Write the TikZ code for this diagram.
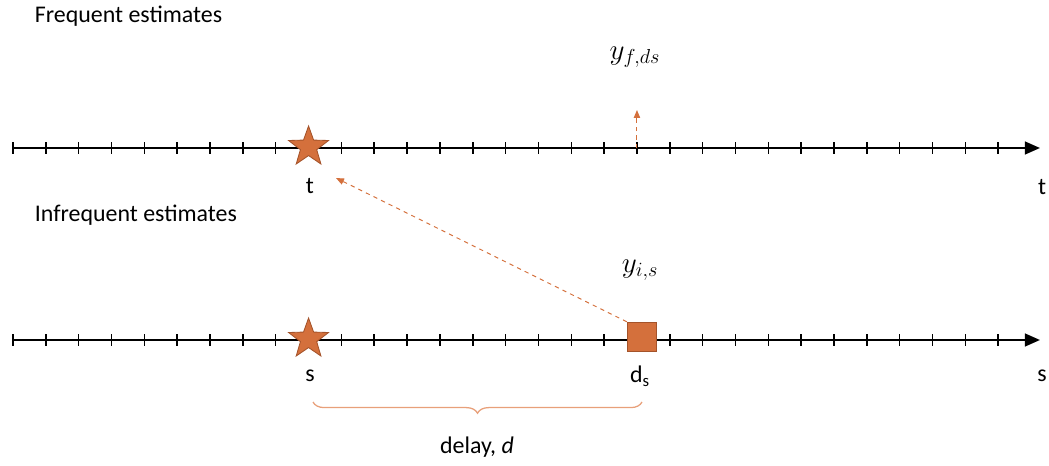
\documentclass[tikz,border=0pt]{standalone}
\usepackage{fontspec}
\setmainfont{Carlito}
\usetikzlibrary{shapes.geometric,positioning,arrows.meta,decorations.pathreplacing}

\definecolor{mark}{HTML}{D4703C}
\definecolor{markedge}{HTML}{A4532A}
\definecolor{lite}{HTML}{E8A07A}

\begin{document}
\begin{tikzpicture}[
  font=\fontsize{17}{20}\selectfont,
  axis/.style={line width=1.6pt, -{Triangle[length=0.38cm, width=0.32cm]}},
  tick/.style={line width=1.1pt},
  event/.style={star, star points=5, star point ratio=2.45, draw=markedge, line width=0.6pt, fill=mark, minimum size=1.05cm, inner sep=0pt},
  report/.style={rectangle, draw=markedge, line width=0.6pt, fill=mark, minimum size=0.74cm, inner sep=0pt},
  link/.style={dashed, draw=mark, line width=0.7pt, -{Triangle[length=0.2cm, width=0.16cm]}},
  mathlab/.style={font=\fontsize{21}{24}\selectfont}
]
\useasboundingbox (0,0) rectangle (26.225,11.625);

%% ============ Top axis: frequent estimates (y = 7.925) ============
\node[anchor=west] (freq) at (0.75,11.225) {Frequent estimates};
\coordinate (ta) at (0.325,7.925);
\coordinate (tb) at (26.0,7.925);
\draw[axis] (ta) -- (tb);
\foreach \k in {0,...,30}
  \draw[tick] (0.325+\k*0.821,7.925-0.15) -- (0.325+\k*0.821,7.925+0.15);

\node[event]  (tstar) at (7.714,7.95) {};
\node         (tlab)  at (7.75,6.975) {t};
\node         (tend)  at (26.05,6.95) {t};
\coordinate   (fbase) at (15.924,7.925);
\coordinate   (ftip)  at (15.924,8.875);
\node[mathlab] (yf)   at (15.875,10.2) {$y_{f,ds}$};
\draw[link] (fbase) -- (ftip);

%% ============ Bottom axis: infrequent estimates (y = 3.125) ============
\node[anchor=west] (infreq) at (0.75,6.25) {Infrequent estimates};
\coordinate (sa) at (0.325,3.125);
\coordinate (sb) at (26.0,3.125);
\draw[axis] (sa) -- (sb);
\foreach \k in {0,...,30}
  \draw[tick] (0.325+\k*0.821,3.125-0.15) -- (0.325+\k*0.821,3.125+0.15);

\node[event]  (sstar) at (7.714,3.15) {};
\node[report] (dsq)   at (16.05,3.2) {};
\node         (slab)  at (7.75,2.225) {s};
\node         (dlab)  at (16.0,2.225) {d\textsubscript{s}};
\node         (send)  at (26.05,2.225) {s};
\node[mathlab] (yi)   at (16.0,4.875) {$y_{i,s}$};

%% report at d_s feeds back to the estimate at t
\coordinate (back) at (8.4,7.175);
\draw[link] (dsq.north west) -- (back);

%% delay brace below s .. d_s
\coordinate (bl) at (7.825,1.575);
\coordinate (br) at (16.05,1.575);
\draw[lite, line width=0.9pt, decorate, decoration={brace, amplitude=0.28cm}] (br) -- (bl);
\node (delay) at (11.925,0.45) {delay, \textit{d}};

\end{tikzpicture}
\end{document}
